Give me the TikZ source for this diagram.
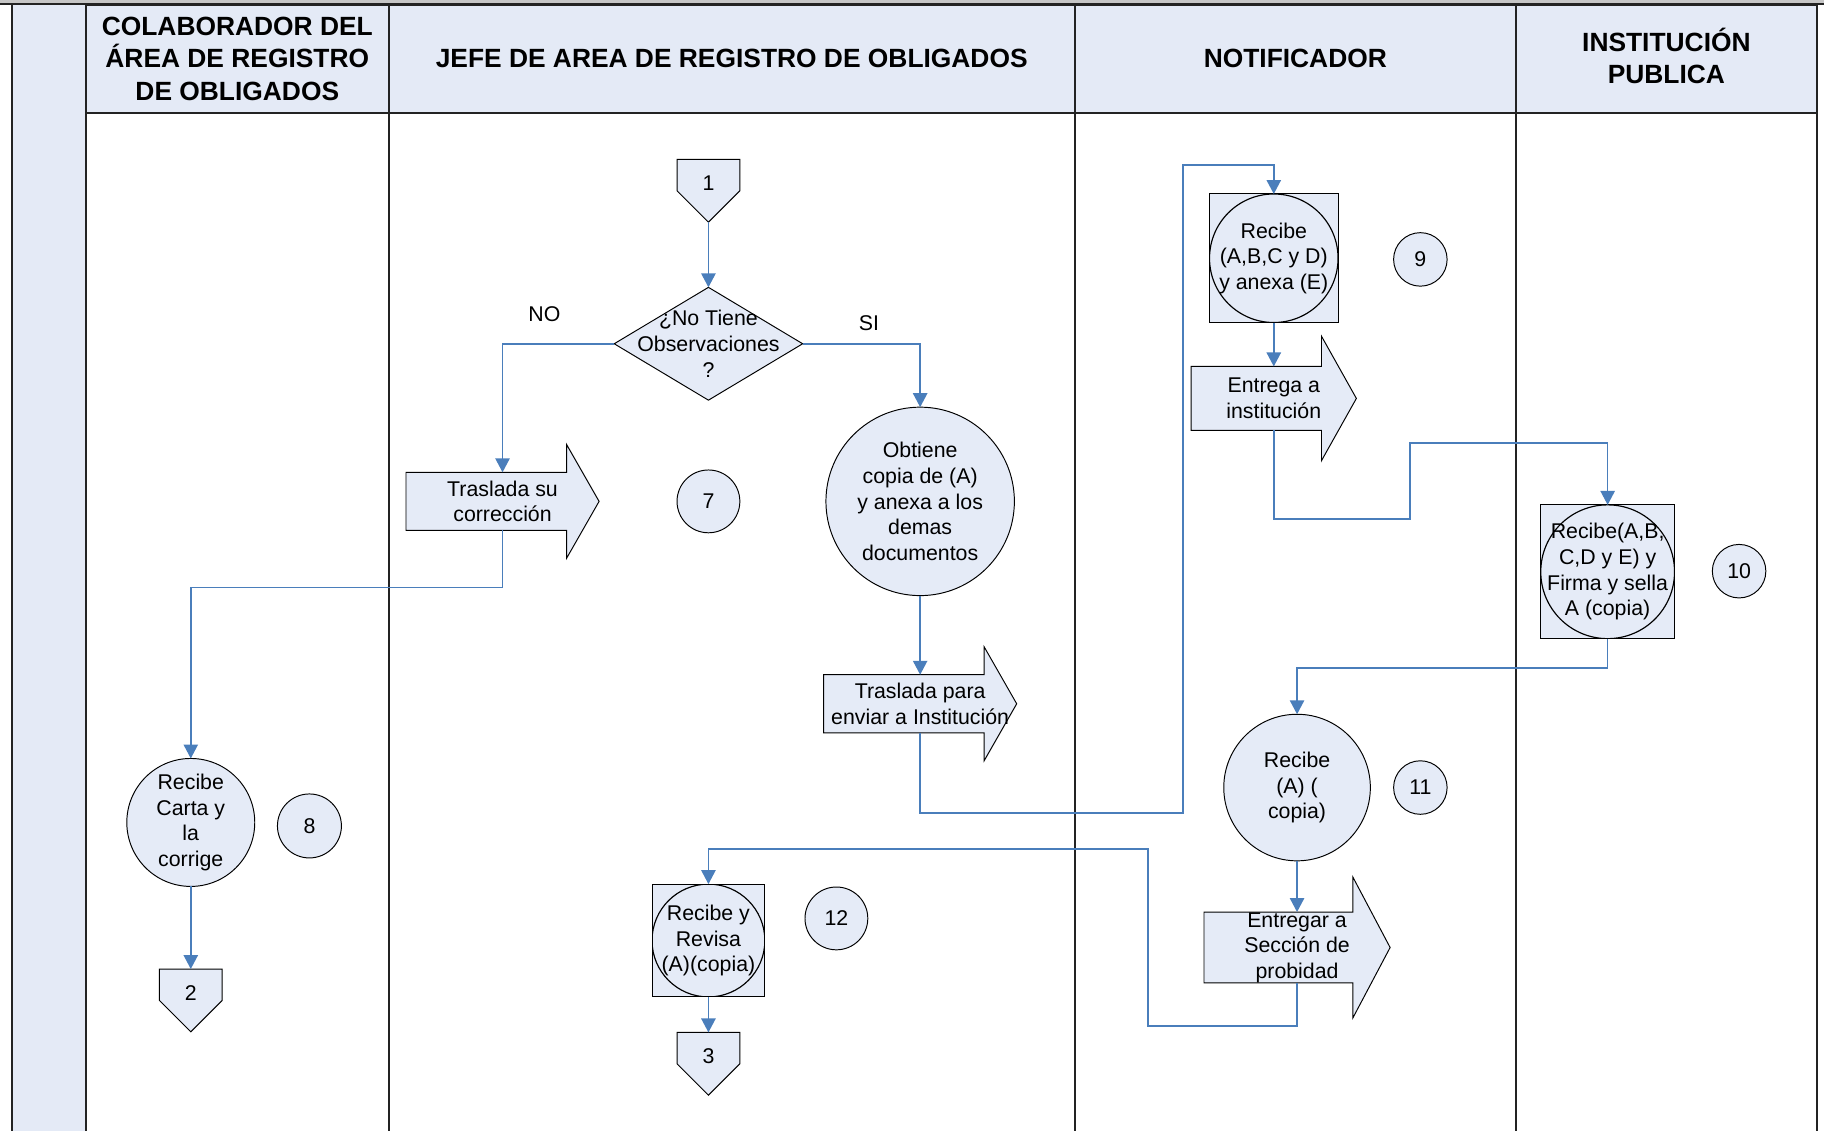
\documentclass[tikz,border=0pt]{standalone}
\usepackage{fontspec}
\setmainfont{Liberation Sans}
\usetikzlibrary{arrows.meta,shapes.geometric,calc}
\pgfdeclarelayer{fondo}
\pgfsetlayers{fondo,main}

\definecolor{relleno}{RGB}{229,235,247}
\definecolor{cabecera}{RGB}{228,234,246}
\definecolor{conector}{RGB}{74,126,187}
\definecolor{borde}{RGB}{35,35,35}

% block arrow outline drawn around a node: node, head length, head overhang
\newcommand\cuerpoflecha[3]{%
  \begin{pgfonlayer}{fondo}
    \draw[forma] (#1.north west) -- ($(#1.north east)+(-#2,0)$) -- ($(#1.north east)+(-#2,-#3)$)
      -- (#1.east) -- ($(#1.south east)+(-#2,#3)$) -- ($(#1.south east)+(-#2,0)$)
      -- (#1.south west) -- cycle;
  \end{pgfonlayer}}
% off-page connector outline (pentagon pointing down)
\newcommand\pentagono[1]{%
  \begin{pgfonlayer}{fondo}
    \draw[forma] (#1.north west) -- (#1.north east) -- ($(#1.north east)+(0,27)$)
      -- (#1.south) -- ($(#1.north west)+(0,27)$) -- cycle;
  \end{pgfonlayer}}

\begin{document}
\begin{tikzpicture}[x=0.6pt,y=-0.6pt,
  every node/.style={font=\fontsize{11}{13.2}\selectfont, align=center, outer sep=0pt},
  forma/.style={draw=black, line width=0.5pt, fill=relleno},
  cabeza/.style={draw=borde, line width=1pt, fill=cabecera, inner sep=0pt,
    font=\bfseries\fontsize{13.6}{16.8}\selectfont},
  flujo/.style={draw=conector, line width=0.8pt, -{Triangle[width=7.4pt,length=7.2pt]}},
  circulo/.style={forma, ellipse, inner sep=-15pt, minimum width=#1, minimum height=#1},
  numero/.style={forma, ellipse, inner sep=0pt, minimum width=#1, minimum height=#1},
  recuadro/.style={forma, rectangle, inner sep=0pt, minimum width=#1, minimum height=#1,
    path picture={\draw[draw=black, fill=none, line width=0.6pt]
      (path picture bounding box.center) ellipse [x radius=#1/2, y radius=#1/2];}},
  bloque/.style 2 args={rectangle, inner sep=0pt, minimum width=#1, minimum height=#2},
  pagina/.style={rectangle, inner sep=0pt, minimum width=32.4pt, minimum height=32.4pt,
    text depth=8pt},
  rotulo/.style={inner sep=0pt}
]
\useasboundingbox (0,0) rectangle (1568,972);

% swimlane frame
\fill[gray!45] (0,0) rectangle (1568,3);
\fill[cabecera] (10,4) rectangle (74,972);
\draw[borde, line width=1pt] (0,3.5) -- (1568,3.5);
\foreach \x in {10,74,334,924,1303,1562}
  \draw[borde, line width=1pt] (\x,3.5) -- (\x,972);

\node[cabeza, minimum width=156pt, minimum height=55.8pt] (h1) at (204,50.5)
  {COLABORADOR DEL\\ÁREA DE REGISTRO\\DE OBLIGADOS};
\node[cabeza, minimum width=354pt, minimum height=55.8pt] (h2) at (629,50.5)
  {JEFE DE AREA DE REGISTRO DE OBLIGADOS};
\node[cabeza, minimum width=227.4pt, minimum height=55.8pt] (h3) at (1113.5,50.5)
  {NOTIFICADOR};
\node[cabeza, minimum width=155.4pt, minimum height=55.8pt, text depth=3pt] (h4) at (1432.5,50.5)
  {INSTITUCIÓN\\PUBLICA};

% jefe de area
\node[pagina] (c1) at (609,164) {1};
\pentagono{c1}
\node[forma, diamond, inner sep=-20pt, minimum width=97.2pt, minimum height=58.2pt]
  (d) at (609,295.5) {¿No Tiene\\Observaciones\\?};
\node[rotulo] (lno) at (468,270) {NO};
\node[rotulo] (lsi) at (747,278) {SI};

\node[bloque={99.6pt}{30pt}] (aA) at (432,431) {Traslada su\\corrección};
\cuerpoflecha{aA}{28}{24}
\node[numero=32.4pt] (p7) at (609,431) {7};
\node[circulo=97.2pt] (obt) at (791,431)
  {Obtiene\\copia de (A)\\y anexa a los\\demas\\documentos};
\node[bloque={99.6pt}{30pt}] (aB) at (791,605) {Traslada para\\enviar a Institución};
\cuerpoflecha{aB}{28}{24}

\node[recuadro=58.2pt] (n12) at (609,808.5) {Recibe y\\Revisa\\(A)(copia)};
\node[numero=32.4pt] (p12) at (719,789.5) {12};
\node[pagina] (c3) at (609,914.5) {3};
\pentagono{c3}

% colaborador
\node[circulo=66pt] (rc) at (164,707) {Recibe\\Carta y\\la\\corrige};
\node[numero=33pt] (p8) at (266,710) {8};
\node[pagina] (c2) at (164,860) {2};
\pentagono{c2}

% notificador
\node[recuadro=66.3pt] (n9) at (1095,222) {Recibe\\(A,B,C y D)\\y anexa (E)};
\node[numero=27.6pt] (p9) at (1221,223) {9};
\node[bloque={85.2pt}{33pt}] (aC) at (1095,342.5) {Entrega a\\institución};
\cuerpoflecha{aC}{30}{26}
\node[circulo=75.6pt] (rA) at (1115,677) {Recibe\\(A) (\\copia)};
\node[numero=27.6pt] (p11) at (1221,677) {11};
\node[bloque={96pt}{36.6pt}] (aD) at (1115,814.5) {Entregar a\\Sección de\\probidad};
\cuerpoflecha{aD}{32}{30}

% institucion publica
\node[recuadro=69pt] (n10) at (1382,491.5) {Recibe(A,B,\\C,D y E) y\\Firma y sella\\A (copia)};
\node[numero=27.6pt] (p10) at (1495,491) {10};

% flow
\draw[flujo] (c1.south) -- (d.north);
\draw[flujo] (d.west) -| (aA.north);
\draw[flujo] (d.east) -| (obt.north);
\draw[flujo] (aA.south) -- ++(0,49) -| (rc.north);
\draw[flujo] (obt.south) -- (aB.north);
\draw[flujo] (rc.south) -- (c2.north);
\draw[flujo] (aB.south) |- (1017,699) -- (1017,142) -| (n9.north);
\draw[flujo] (n9.south) -- (aC.north);
\draw[flujo] (aC.south) |- (1212,446) -- (1212,381) -| (n10.north);
\draw[flujo] (n10.south) -- ++(0,25) -| (rA.north);
\draw[flujo] (rA.south) -- (aD.north);
\draw[flujo] (aD.south) |- (987,882) -- (987,730) -| (n12.north);
\draw[flujo] (n12.south) -- (c3.north);
\end{tikzpicture}
\end{document}
